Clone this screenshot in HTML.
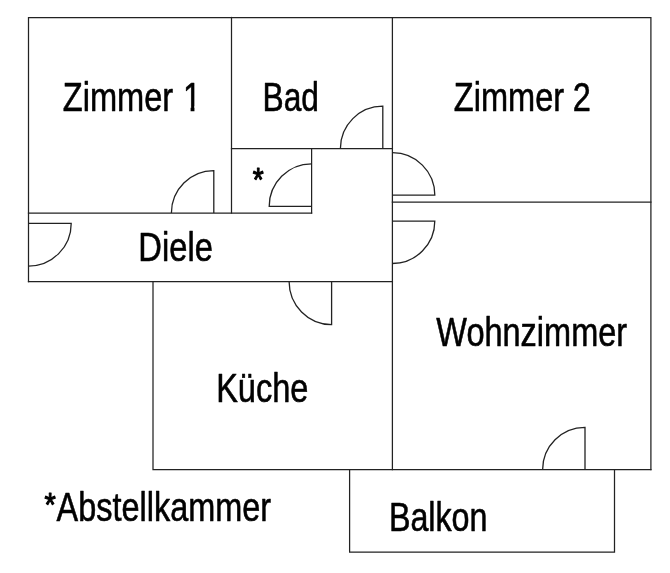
<!DOCTYPE html>
<html><head><meta charset="utf-8">
<style>
html,body{margin:0;padding:0;background:#fff;}
body{width:670px;height:573px;overflow:hidden;}
svg{display:block;}
text{font-family:"Liberation Sans",sans-serif;font-size:40px;fill:#000;stroke:#000;stroke-width:0.6px;stroke-linejoin:round;}
</style></head><body>
<svg width="670" height="573" viewBox="0 0 670 573">
<rect width="670" height="573" fill="#fff"/>
<g fill="none" stroke="#222" stroke-width="1.25" stroke-linecap="square">
<!-- outer walls -->
<path d="M28.5 281.5V17.5H650.9V469.7"/>
<path d="M231.5 17.5V213"/>
<path d="M392.4 17.5V469.7"/>
<path d="M231.5 148.6H392.4"/>
<path d="M311.6 148.6V213"/>
<path d="M28.5 213H311.6"/>
<path d="M28.5 281.5H392.4"/>
<path d="M392.4 202H650.9"/>
<path d="M153 281.5V469.7H650.9"/>
<path d="M349.6 469.7V552.2H614.5V469.7"/>
</g>
<g fill="none" stroke="#222" stroke-width="1.3">
<!-- doors -->
<path d="M171.4 213A42.4 42.4 0 0 1 213.8 170.6V213"/>
<path d="M311.6 206.4H269.2A42.4 42.6 0 0 1 311.6 163.8"/>
<path d="M340.4 148.6A42.4 42.4 0 0 1 382.8 106.2V148.6"/>
<path d="M392.4 195.1H434.8A42.4 42.4 0 0 0 392.4 152.7"/>
<path d="M392.4 221.1H434.8A42.4 42.4 0 0 1 392.4 263.5"/>
<path d="M28.5 223.4H71.2A42.7 42.7 0 0 1 28.5 266.1"/>
<path d="M289.1 281.5A42.5 43.1 0 0 0 331.6 324.6V281.5"/>
<path d="M542.6 469.7A42.4 42.4 0 0 1 585 427.3V469.7"/>
</g>
<g style="opacity:0.999">
<text id="t1" transform="translate(62.80 110.70) scale(0.8148 1)">Zimmer <tspan id="d1" dx="1">1</tspan></text>
<text id="t2" transform="translate(262.57 110.70) scale(0.7926 1)">Bad</text>
<text id="t3" transform="translate(453.76 110.70) scale(0.8144 1)">Zimmer <tspan id="d2" dx="-0.6">2</tspan></text>
<text id="t4" transform="translate(138.35 260.75) scale(0.8171 1)">Diele</text>
<text id="t5" transform="translate(436.30 346.3) scale(0.8127 1)">Wohnzimmer</text>
<text id="t6" transform="translate(216.16 401.85) scale(0.8136 1)">Küche</text>
<text id="t7a" style="stroke-width:1.4px" transform="translate(44.50 515.87) scale(0.7243 0.8391)">*</text>
<text id="t7" transform="translate(56.59 520.65) scale(0.8113 1)">Abstellkammer</text>
<text id="t8" transform="translate(388.89 530.55) scale(0.8059 1)">Balkon</text>
<text id="t9" style="stroke-width:1.4px" transform="translate(252.75 190.71) scale(0.7022 0.8387)">*</text>
</g>
<rect x="182.5" y="106.2" width="8.1" height="6.3" fill="#fff"/>
<rect x="194.45" y="106.2" width="7" height="6.3" fill="#fff"/>
</svg>
</body></html>
